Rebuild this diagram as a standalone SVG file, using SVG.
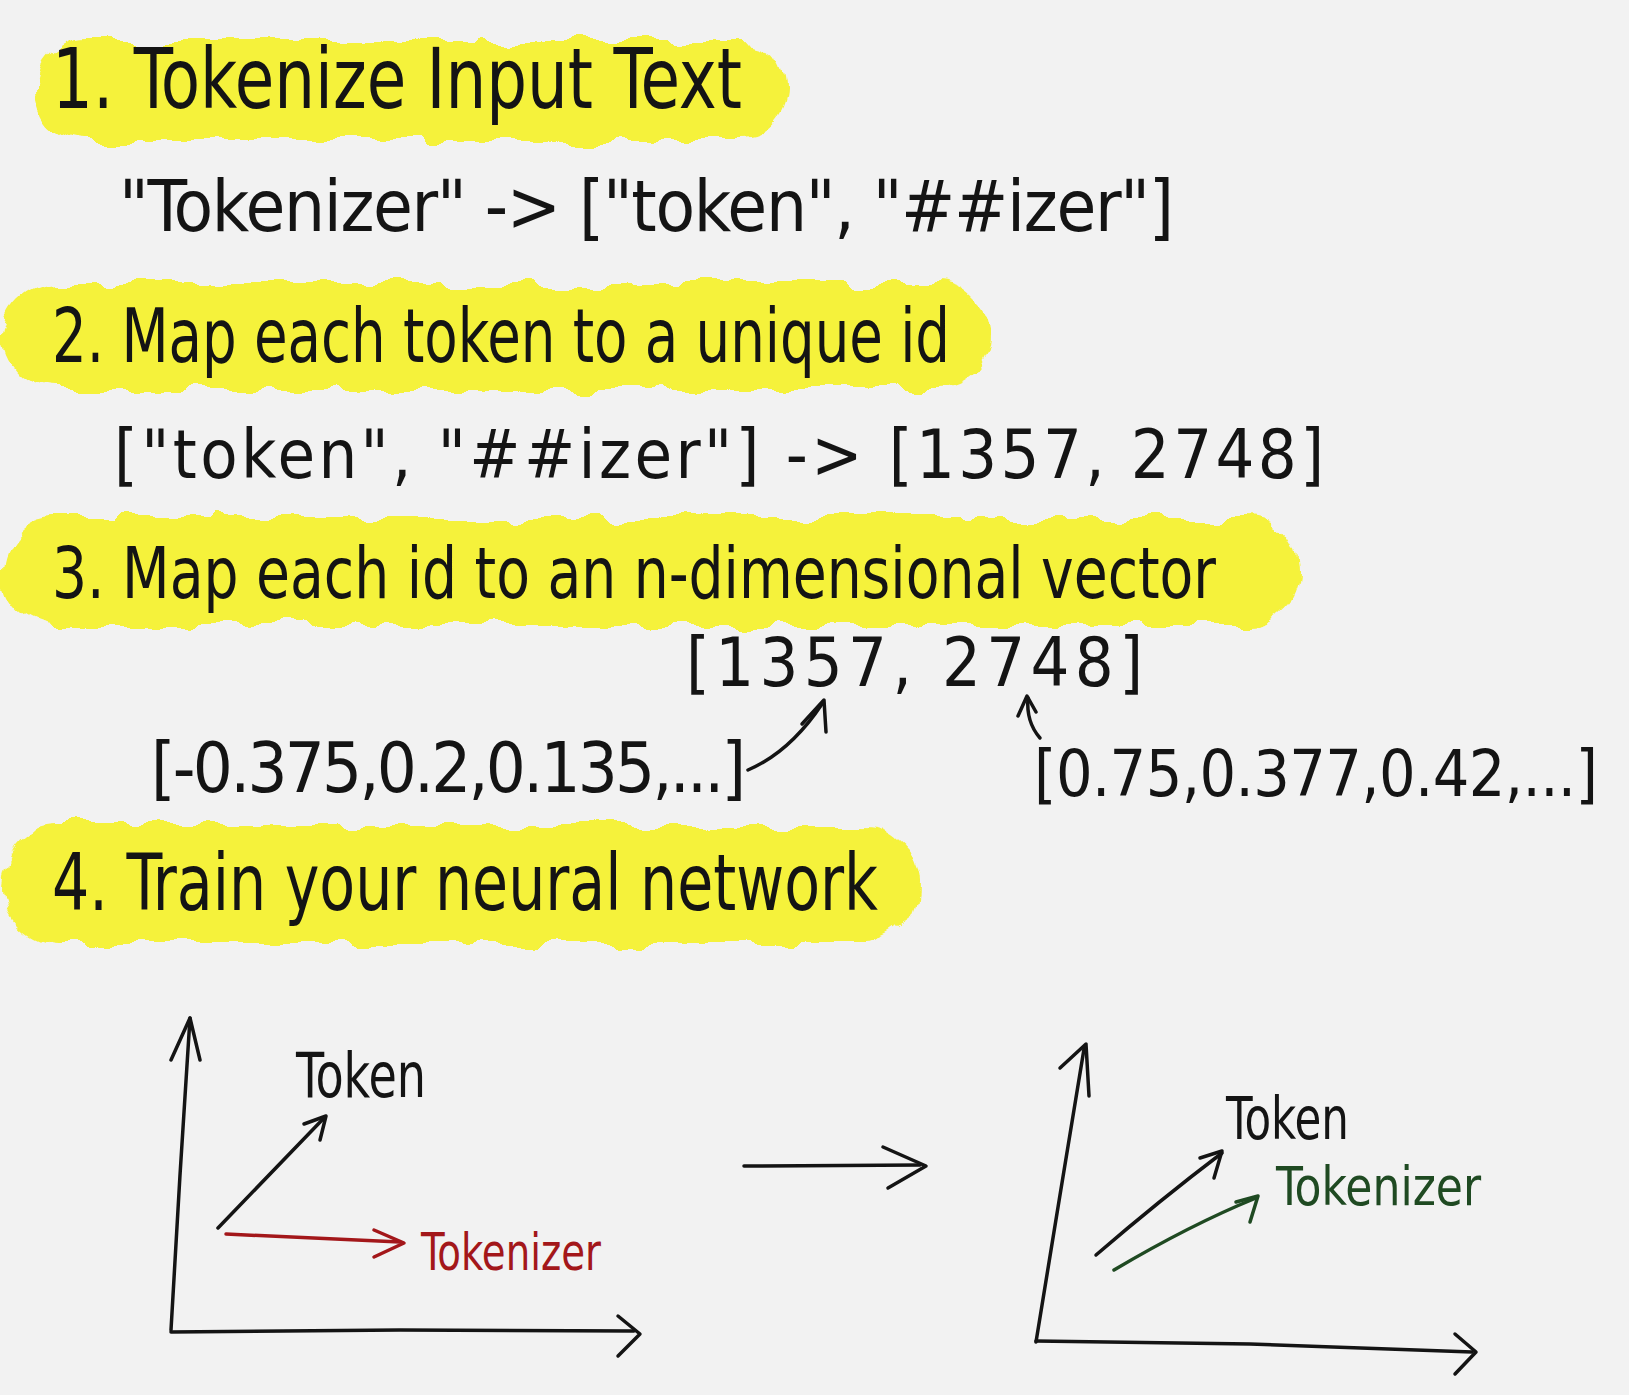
<svg xmlns="http://www.w3.org/2000/svg" width="1629" height="1395" viewBox="0 0 1629 1395">
<style>
.hl{fill:#f5f23a;filter:url(#rough)}
.t{font-family:"DejaVu Sans Condensed","Liberation Sans",sans-serif;fill:#141414}
.ln{fill:none;stroke:#141414;stroke-width:3.5;stroke-linecap:round;stroke-linejoin:round}
.red{stroke:#a3171a}
.grn{stroke:#1f4a22}
</style>
<defs>
<filter id="rough" x="-5%" y="-30%" width="110%" height="160%">
<feTurbulence type="fractalNoise" baseFrequency="0.03" numOctaves="2" seed="3"/>
<feDisplacementMap in="SourceGraphic" scale="26" xChannelSelector="R" yChannelSelector="G"/>
</filter>
</defs>
<rect width="1629" height="1395" fill="#f2f2f2"/>

<g id="step1">
<rect class="hl" x="36" y="40" width="752" height="100" rx="50"/>
<text class="t" x="52" y="108" font-size="84" textLength="690" lengthAdjust="spacingAndGlyphs">1. Tokenize  Input  Text</text>
</g>
<g id="example1">
<text class="t" x="119" y="231" font-size="72" textLength="1055" lengthAdjust="spacing">"Tokenizer"  -&gt; ["token", "##izer"]</text>
</g>

<g id="step2">
<rect class="hl" x="2" y="284" width="986" height="106" rx="53"/>
<text class="t" x="52" y="362" font-size="74" textLength="898" lengthAdjust="spacingAndGlyphs">2. Map each token to a unique id</text>
</g>
<g id="example2">
<text class="t" x="114" y="478" font-size="68" textLength="1210" lengthAdjust="spacing">["token", "##izer"] -&gt; [1357, 2748]</text>
</g>

<g id="step3">
<rect class="hl" x="2" y="518" width="1298" height="108" rx="54"/>
<text class="t" x="52" y="598" font-size="72" textLength="1164" lengthAdjust="spacingAndGlyphs">3. Map each id to an n-dimensional vector</text>
</g>
<g id="ids">
<text class="t" x="686" y="686" font-size="68" textLength="457" lengthAdjust="spacing">[1357, 2748]</text>
</g>
<g id="vector1">
<text class="t" x="151" y="792" font-size="70" textLength="595" lengthAdjust="spacing">[-0.375,0.2,0.135,...]</text>
</g>
<g id="vector2">
<text class="t" x="1034" y="796" font-size="64" textLength="564" lengthAdjust="spacing">[0.75,0.377,0.42,...]</text>
</g>

<g id="step4">
<rect class="hl" x="2" y="826" width="918" height="118" rx="59"/>
<text class="t" x="52" y="910" font-size="78" textLength="826" lengthAdjust="spacingAndGlyphs">4. Train your neural network</text>
</g>

<g id="chart-before">
<path class="ln" d="M171 1330 L180 1175 L190 1018"/>
<path class="ln" d="M171 1060 L190 1018 L200 1060"/>
<path class="ln" d="M171 1332 L400 1330 L634 1331"/>
<path class="ln" d="M618 1316 L640 1334 L618 1356"/>
<text class="t" x="296" y="1097" font-size="62" textLength="130" lengthAdjust="spacingAndGlyphs">Token</text>
<text class="t" x="421" y="1270" font-size="52" textLength="180" lengthAdjust="spacingAndGlyphs" style="fill:#a3171a">Tokenizer</text>
</g>

<g id="chart-after">
<path class="ln" d="M1036 1342 L1060 1195 L1084 1049"/>
<path class="ln" d="M1060 1068 L1086 1044 L1089 1096"/>
<path class="ln" d="M1036 1341 L1250 1344 L1472 1352"/>
<path class="ln" d="M1455 1334 L1476 1352 L1455 1374"/>
<text class="t" x="1226" y="1139" font-size="58" textLength="123" lengthAdjust="spacingAndGlyphs">Token</text>
<text class="t" x="1276" y="1205" font-size="54" textLength="205" lengthAdjust="spacingAndGlyphs" style="fill:#1f4a22">Tokenizer</text>
</g>

<g id="connectors">
<path class="ln" d="M748 770 Q790 752 822 704"/>
<path class="ln" d="M802 724 L824 700 L826 732"/>
<path class="ln" d="M1040 738 Q1026 722 1028 698"/>
<path class="ln" d="M1018 716 L1027 696 L1036 712"/>
<path class="ln" d="M218 1228 L324 1118"/>
<path class="ln" d="M304 1124 L326 1116 L320 1140"/>
<path class="ln red" d="M226 1234 L400 1242"/>
<path class="ln red" d="M374 1230 L404 1243 L374 1257"/>
<path class="ln" d="M744 1166 L920 1165"/>
<path class="ln" d="M883 1147 L926 1166 L888 1188"/>
<path class="ln" d="M1096 1255 Q1160 1200 1222 1153"/>
<path class="ln" d="M1200 1158 L1222 1151 L1214 1178"/>
<path class="ln grn" d="M1114 1270 Q1190 1225 1256 1198"/>
<path class="ln grn" d="M1236 1202 L1258 1196 L1250 1222"/>
</g>
</svg>
